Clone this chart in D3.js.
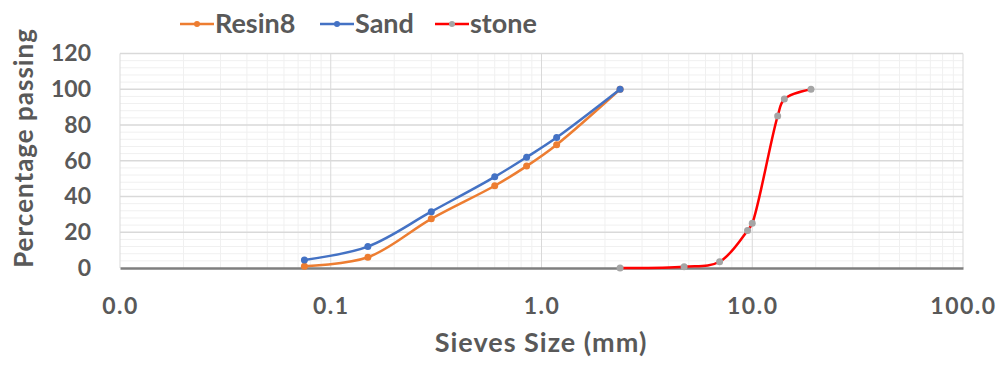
<!DOCTYPE html>
<html><head><meta charset="utf-8">
<script src="https://cdn.jsdelivr.net/npm/d3@7/dist/d3.min.js"></script>
<style>
html,body{margin:0;padding:0;background:#fff;}
text{font-family:Lato,"Open Sans",sans-serif;font-weight:bold;fill:#595959;}
</style></head>
<body><svg id="c" width="1003" height="368"></svg>
<script>
const sandSizes  = [0.075, 0.15, 0.3, 0.6, 0.85, 1.18, 2.36];
const sandPass   = [4.5, 12, 31.5, 51, 62, 73, 100];
const resinSizes = [0.075, 0.15, 0.3, 0.6, 0.85, 1.18, 2.36];
const resinPass  = [1, 6, 27.5, 46, 57, 69, 100];
const stoneSizes = [2.36, 4.75, 7, 9.5, 10, 13.2, 14.2, 19];
const stonePass  = [0, 0.7, 3.5, 21, 25, 85, 94.5, 100];
const xTicks = [0.01, 0.1, 1, 10, 100];
const xTickLabels = ["0.0", "0.1", "1.0", "10.0", "100.0"];
const yTicks = [0, 20, 40, 60, 80, 100, 120];
const seriesNames = ["Resin8", "Sand", "stone"];

const svg = d3.select("#c");
const x = d3.scaleLog().domain([0.01, 100]).range([120, 963]);
const y = d3.scaleLinear().domain([0, 120]).range([268, 53.5]);

// minor grid
const g = svg.append("g");
const minorX = [];
for (const d of [0.01, 0.1, 1, 10]) for (let k = 2; k <= 9; k++) minorX.push(d * k);
const minorY = d3.range(0, 121, 4).filter(v => v % 20 !== 0);
g.selectAll(".mx").data(minorX).join("line")
  .attr("x1", d => x(d)).attr("x2", d => x(d)).attr("y1", y(120)).attr("y2", y(0))
  .attr("stroke", "#f0f0f0").attr("stroke-width", 1);
g.selectAll(".my").data(minorY).join("line")
  .attr("x1", x(0.01)).attr("x2", x(100)).attr("y1", d => y(d)).attr("y2", d => y(d))
  .attr("stroke", "#f0f0f0").attr("stroke-width", 1);
// major grid
g.selectAll(".Mx").data(xTicks).join("line")
  .attr("x1", d => x(d)).attr("x2", d => x(d)).attr("y1", y(120)).attr("y2", y(0))
  .attr("stroke", "#d9d9d9").attr("stroke-width", 1);
g.selectAll(".My").data(yTicks.slice(1)).join("line")
  .attr("x1", x(0.01)).attr("x2", x(100)).attr("y1", d => y(d)).attr("y2", d => y(d))
  .attr("stroke", "#d9d9d9").attr("stroke-width", 1.3);

// axes
const xAxis = svg.append("g").attr("transform", `translate(0,${y(0)})`)
  .call(d3.axisBottom(x).tickValues(xTicks).tickFormat((d, i) => xTickLabels[i]).tickSize(0).tickPadding(30));
xAxis.select(".domain").attr("stroke", "#7f7f7f").attr("stroke-width", 2.5);
xAxis.selectAll("text").style("font-size", "23px").style("letter-spacing", "1.5px").attr("fill", "#595959");

const yAxis = svg.append("g").attr("transform", `translate(${x(0.01)},0)`)
  .call(d3.axisLeft(y).tickValues(yTicks).tickSize(0).tickPadding(29));
yAxis.select(".domain").remove();
yAxis.selectAll("text").style("font-size", "23px").attr("fill", "#595959");

// titles
svg.append("text").attr("x", 541).attr("y", 352).attr("text-anchor", "middle")
  .style("font-size", "27px").style("letter-spacing", "1px").text("Sieves Size (mm)");
svg.append("text").attr("transform", "translate(33,148) rotate(-90)").attr("text-anchor", "middle")
  .style("font-size", "26px").style("letter-spacing", "1px").text("Percentage passing");

// series
const series = [
  {name: seriesNames[0], xs: resinSizes, ys: resinPass, color: "#ED7D31", mk: "#ED7D31"},
  {name: seriesNames[1], xs: sandSizes, ys: sandPass, color: "#4472C4", mk: "#4472C4"},
  {name: seriesNames[2], xs: stoneSizes, ys: stonePass, color: "#FF0000", mk: "#A5A5A5"}
];
for (const s of series) {
  const pts = s.xs.map((v, i) => [v, s.ys[i]]);
  svg.append("path").datum(pts)
    .attr("d", d3.line().x(d => x(d[0])).y(d => y(d[1])).curve(d3.curveCatmullRom))
    .attr("fill", "none").attr("stroke", s.color).attr("stroke-width", 2.5);
  svg.append("g").selectAll("circle").data(pts).join("circle")
    .attr("cx", d => x(d[0])).attr("cy", d => y(d[1])).attr("r", 3.5)
    .attr("fill", s.mk);
}

// legend
const legX = [180, 320, 435];
const lg = svg.append("g");
series.forEach((s, i) => {
  const gx = legX[i];
  lg.append("line").attr("x1", gx).attr("x2", gx + 34).attr("y1", 24).attr("y2", 24)
    .attr("stroke", s.color).attr("stroke-width", 2.5);
  lg.append("circle").attr("cx", gx + 17).attr("cy", 24).attr("r", 3).attr("fill", s.mk);
  lg.append("text").attr("x", gx + 35).attr("y", 33).style("font-size", "27px").text(s.name);
});
</script></body></html>
